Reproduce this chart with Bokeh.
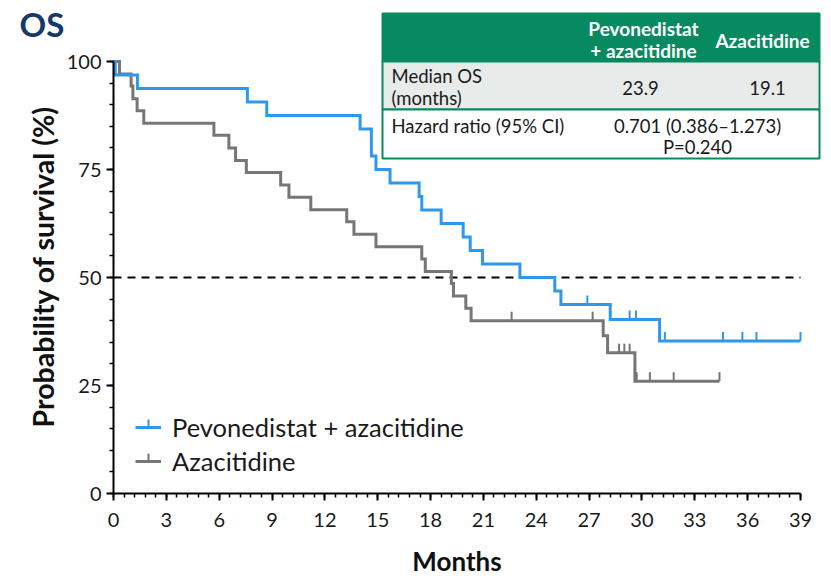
import numpy as np
from bokeh.plotting import figure
from bokeh.models import Range1d, SingleIntervalTicker, Label, Legend, LegendItem
from bokeh.embed import file_html
from bokeh.resources import INLINE

# ---------------- data ----------------
peva_times = [0, 0.1, 1.36, 7.6, 8.7, 14.0, 14.64, 14.9, 15.7, 17.35, 17.5, 18.6,
              19.85, 20.25, 20.95, 23.07, 25.05, 25.4, 28.2, 31.0, 39.0]
peva_surv = [100, 96.9, 93.75, 90.6, 87.5, 84.4, 78.1, 75.0, 71.9, 68.75, 65.6, 62.5,
             59.4, 56.25, 53.1, 50.0, 46.9, 43.75, 40.3, 35.3, 35.3]
peva_censor = [26.9, 29.3, 29.66, 31.3, 34.6, 35.7, 36.5, 39.0]

aza_times = [0, 0.34, 1.0, 1.1, 1.34, 1.72, 5.7, 6.55, 6.93, 7.54, 9.49, 9.96, 11.2,
             13.24, 13.65, 14.9, 17.5, 17.7, 19.18, 19.3, 20.0, 20.3, 27.8, 28.05, 29.6, 34.4]
aza_surv = [100, 97.1, 94.3, 91.4, 88.6, 85.7, 82.9, 80.0, 77.1, 74.3, 71.4, 68.6, 65.7,
            62.9, 60.0, 57.1, 54.3, 51.4, 48.6, 45.7, 42.9, 40.0, 36.5, 32.6, 26.0, 26.0]
aza_censor = [22.6, 27.2, 28.7, 29.0, 29.3, 29.7, 30.45, 31.8, 34.4]

series_names = ["Pevonedistat + azacitidine", "Azacitidine"]
median_line = 50
x_max = 39
y_max = 100

x_ticks_interval = 3
y_ticks_interval = 25

title_text = "OS"
x_title = "Months"
y_title = "Probability of survival (%)"
table_header = ["Pevonedistat\n+ azacitidine", "Azacitidine"]
median_os = ["23.9", "19.1"]
hazard_ratio = "0.701 (0.386\u20131.273)"
p_value = "P=0.240"

# ---------------- layout helpers (pixel -> data) ----------------
XPX0, XPX1 = 113, 800    # pixel of x = 0 and x = 39
YPX0, YPX1 = 493, 61     # pixel of y = 0 and y = 100
W, H = 831, 576


def dx(px):
    return (px - XPX0) * x_max / (XPX1 - XPX0)


def dy(py):
    return (YPX0 - py) * y_max / (YPX0 - YPX1)


BLUE = "#2f98ec"
GRAY = "#767676"
GREEN = "#078a5f"
FONT = "Lato"

p = figure(width=W, height=H, output_backend="svg", toolbar_location=None,
           x_range=Range1d(dx(0), dx(W)), y_range=Range1d(dy(H), dy(0)),
           min_border=0)
p.outline_line_color = None
p.grid.visible = False
p.background_fill_color = "white"
p.border_fill_color = "white"


def surv_at(times, surv, t):
    idx = np.searchsorted(np.array(times), np.array(t), side="right") - 1
    return list(np.array(surv)[idx])


# median dashed line
p.line([0, x_max], [median_line, median_line], line_color="black", line_width=2,
       line_dash="8 6")

# curves
r_aza = p.step(aza_times, aza_surv, mode="after", line_color=GRAY, line_width=3,
               line_join="miter")
r_peva = p.step(peva_times, peva_surv, mode="after", line_color=BLUE, line_width=3,
                line_join="miter")

# censor ticks (upwards)
p.ray(x=aza_censor, y=surv_at(aza_times, aza_surv, aza_censor), length=9,
      length_units="screen", angle=np.pi / 2, line_color=GRAY, line_width=2)
p.ray(x=peva_censor, y=surv_at(peva_times, peva_surv, peva_censor), length=9,
      length_units="screen", angle=np.pi / 2, line_color=BLUE, line_width=2)

# legend
LEG_X, LEG_BOTTOM = 135, 478
legend = Legend(items=[LegendItem(label=series_names[0], renderers=[r_peva]),
                       LegendItem(label=series_names[1], renderers=[r_aza])],
                location=(LEG_X, H - LEG_BOTTOM), padding=0, margin=0, spacing=0,
                glyph_width=26, glyph_height=34, label_height=34, label_standoff=11,
                label_text_font=FONT, label_text_font_size="25.5px",
                label_text_color="#1a1a1a",
                background_fill_alpha=0, border_line_color=None)
p.add_layout(legend)
# censor tick inside the legend symbols
p.ray(x=[dx(LEG_X + 13)] * 2, y=[dy(LEG_BOTTOM - 51), dy(LEG_BOTTOM - 17)], length=8,
      length_units="screen", angle=np.pi / 2, line_color=[BLUE, GRAY], line_width=2)

# axes (placed at the data origin)
p.xaxis.fixed_location = 0
p.yaxis.fixed_location = 0
p.xaxis.ticker = SingleIntervalTicker(interval=x_ticks_interval, num_minor_ticks=5)
p.yaxis.ticker = SingleIntervalTicker(interval=y_ticks_interval, num_minor_ticks=5)
p.xaxis.bounds = (0, x_max)
p.yaxis.bounds = (0, y_max)
for ax in (p.xaxis[0], p.yaxis[0]):
    ax.axis_line_width = 2
    ax.axis_line_color = "black"
    ax.major_tick_line_width = 2
    ax.minor_tick_line_width = 1.5
    ax.major_tick_out = 7
    ax.major_tick_in = 0
    ax.minor_tick_out = 4
    ax.minor_tick_in = 0
    ax.major_label_text_font = FONT
    ax.major_label_text_font_size = "20px"
    ax.major_label_text_color = "#1a1a1a"
p.xaxis.major_label_standoff = 12
p.yaxis.major_label_standoff = 5

# axis titles
p.add_layout(Label(x=x_max / 2, y=dy(560), text=x_title, text_align="center",
                   text_baseline="middle", text_font=FONT, text_font_style="bold",
                   text_font_size="26px", text_color="#111111"))
p.add_layout(Label(x=dx(42), y=dy(266), text=y_title, text_align="center",
                   text_baseline="middle", angle=np.pi / 2, text_font=FONT,
                   text_font_style="bold", text_font_size="28.5px", text_color="#111111"))

# title "OS"
p.add_layout(Label(x=dx(19), y=dy(23), text=title_text, text_font=FONT,
                   text_font_style="bold", text_font_size="33px", text_color="#15396b",
                   text_baseline="middle"))

# table
TL, TR, TT, H1, H2, TB = 382, 819, 13, 61, 109, 158
p.quad(left=[dx(TL)] * 3, right=[dx(TR)] * 3, top=[dy(TT), dy(H1), dy(H2)],
       bottom=[dy(H1), dy(H2), dy(TB)], fill_color=[GREEN, "#e7ebe9", "white"],
       line_color=GREEN, line_width=2)


def tlabel(px, py, text, align="center", bold=False, color="#1a1a1a", size="18.5px"):
    p.add_layout(Label(x=dx(px), y=dy(py), text=text, text_align=align,
                       text_baseline="middle", text_font=FONT,
                       text_font_style="bold" if bold else "normal",
                       text_font_size=size, text_color=color))


h1a, h1b = table_header[0].split("\n")
tlabel(643, 28, h1a, bold=True, color="white", size="19px")
tlabel(643, 50, h1b, bold=True, color="white", size="19px")
tlabel(762, 40, table_header[1], bold=True, color="white", size="19px")
tlabel(391, 75, "Median OS", align="left")
tlabel(391, 97, "(months)", align="left")
tlabel(640, 87, median_os[0])
tlabel(767, 87, median_os[1])
tlabel(391, 125, "Hazard ratio (95% CI)", align="left")
tlabel(697, 125, hazard_ratio)
tlabel(697, 146, p_value)

open("out.html", "w").write(file_html(p, INLINE))
